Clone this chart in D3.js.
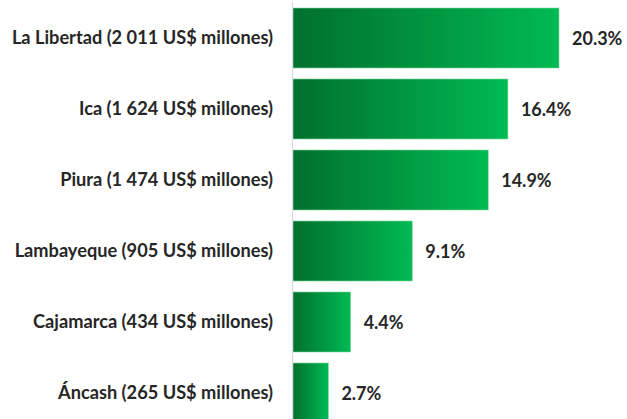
<!DOCTYPE html>
<html><head><meta charset="utf-8">
<script src="https://cdn.jsdelivr.net/npm/d3@7"></script>
<style>html,body{margin:0;padding:0;background:#fff;overflow:hidden}</style>
</head><body>
<svg id="c" width="627" height="419"></svg>
<script>
const regions = ["La Libertad (2 011 US$ millones)","Ica (1 624 US$ millones)","Piura (1 474 US$ millones)","Lambayeque (905 US$ millones)","Cajamarca (434 US$ millones)","Áncash (265 US$ millones)"];
const shares = [20.3, 16.4, 14.9, 9.1, 4.4, 2.7];
const valueLabels = ["20.3%","16.4%","14.9%","9.1%","4.4%","2.7%"];

const svg = d3.select("#c");
const x0 = 293;
const x = d3.scaleLinear().domain([0, 20.3]).range([x0, 559]);
const y = d3.scaleBand().domain(regions).range([2.5, 2.5 + 71*6]).paddingInner(0.155).paddingOuter(0.0775);

const defs = svg.append("defs");
const g = defs.append("linearGradient").attr("id","gr").attr("x1","0").attr("x2","1").attr("y1","0").attr("y2","0");
g.append("stop").attr("offset","0").attr("stop-color","#00702E");
g.append("stop").attr("offset","1").attr("stop-color","#00BA52");

svg.selectAll("rect.bar").data(regions).enter().append("rect")
  .attr("class","bar")
  .attr("x", x0)
  .attr("y", d => y(d))
  .attr("width", (d,i) => x(shares[i]) - x0)
  .attr("height", y.bandwidth())
  .attr("fill","url(#gr)")
  .attr("stroke","#7fd89f").attr("stroke-width",0.6);

svg.append("line").attr("x1",x0-0.5).attr("x2",x0-0.5).attr("y1",2).attr("y2",419)
  .attr("stroke","#d9d9d9").attr("stroke-width",1.2);

svg.selectAll("text.cat").data(regions).enter().append("text")
  .attr("class","cat")
  .attr("x", 273)
  .attr("y", d => y(d) + y.bandwidth()/2)
  .attr("dy","0.35em")
  .attr("text-anchor","end")
  .attr("font-family","Lato, 'Open Sans', sans-serif")
  .attr("font-weight","bold")
  .attr("font-size","18.2px")
  .attr("fill","#262626")
  .text(d => d);

svg.selectAll("text.val").data(regions).enter().append("text")
  .attr("class","val")
  .attr("x", (d,i) => x(shares[i]) + 13)
  .attr("y", d => y(d) + y.bandwidth()/2 + 1)
  .attr("dy","0.35em")
  .attr("font-family","Lato, 'Open Sans', sans-serif")
  .attr("font-weight","bold")
  .attr("font-size","18px")
  .attr("fill","#262626")
  .text((d,i) => valueLabels[i]);
</script>
</body></html>
